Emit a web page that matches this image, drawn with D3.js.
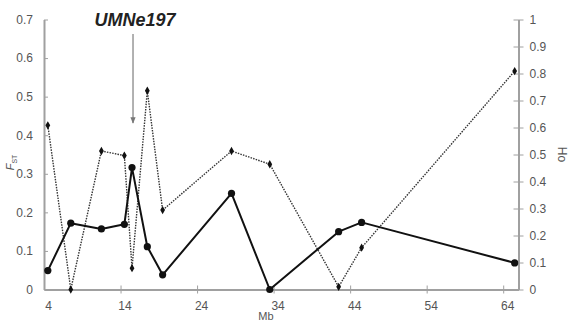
<!DOCTYPE html>
<html>
<head>
<meta charset="utf-8">
<script src="https://cdn.jsdelivr.net/npm/d3@7"></script>
<style>
  html, body { margin: 0; padding: 0; background: #fff; }
  svg { display: block; font-family: Arial, "Liberation Sans", sans-serif; }
</style>
</head>
<body>
<svg id="chart" width="572" height="326"></svg>
<script>
// Marker positions along the chromosome (Mb)
const positionsMb = [4.5, 7.5, 11.5, 14.5, 15.5, 17.5, 19.5, 28.5, 33.5, 42.5, 45.5, 65.5];
// FST per marker (left axis)
const fstValues = [0.049, 0.172, 0.157, 0.169, 0.316, 0.111, 0.038, 0.249, 0.0, 0.150, 0.174, 0.069];
// Observed heterozygosity per marker (right axis)
const hoValues = [0.608, 0.0, 0.513, 0.496, 0.079, 0.736, 0.294, 0.513, 0.464, 0.010, 0.155, 0.809];
// Axis ticks
const xTicks = [4, 14, 24, 34, 44, 54, 64];
const fstTicks = [0, 0.1, 0.2, 0.3, 0.4, 0.5, 0.6, 0.7];
const hoTicks = [0, 0.1, 0.2, 0.3, 0.4, 0.5, 0.6, 0.7, 0.8, 0.9, 1];
// Highlighted marker
const markerName = "UMNe197";
const markerPos = 15.5;

const svg = d3.select("#chart");
const plotLeft = 44, plotRight = 518.5, plotTop = 19.5, plotBottom = 289.5;

const x = d3.scaleLinear().domain([4, 66]).range([plotLeft, plotRight]);
const yF = d3.scaleLinear().domain([0, 0.7]).range([plotBottom, plotTop]);
const yH = d3.scaleLinear().domain([0, 1]).range([plotBottom, plotTop]);

const axisColor = "#a0a0a0";
const textColor = "#555";

function styleAxis(g) {
  g.selectAll(".domain").attr("stroke", axisColor).attr("stroke-width", 2);
  g.selectAll(".tick line").attr("stroke", axisColor).attr("stroke-width", 1);
  g.selectAll(".tick text").attr("fill", textColor).attr("font-size", 12);
}

// Bottom axis (ticks cross the line)
const gx = svg.append("g").attr("transform", `translate(0,${plotBottom})`)
  .call(d3.axisBottom(x).tickValues(xTicks).tickFormat(d3.format("d"))
    .tickSizeInner(4).tickSizeOuter(0).tickPadding(8));
styleAxis(gx);
gx.selectAll(".tick line").attr("y1", -4);
gx.selectAll(".tick text").attr("dx", 4);
gx.selectAll(".tick").filter(d => d === 4).select("line").remove();

// Left axis
const gl = svg.append("g").attr("transform", `translate(${plotLeft},0)`)
  .call(d3.axisLeft(yF).tickValues(fstTicks).tickFormat(d => d === 0 ? "0" : d3.format(".1f")(d))
    .tickSizeInner(5).tickSizeOuter(0).tickPadding(6));
styleAxis(gl);
gl.selectAll(".tick line").attr("x2", 4);

// Right axis
const gr = svg.append("g").attr("transform", `translate(${plotRight},0)`)
  .call(d3.axisRight(yH).tickValues(hoTicks).tickFormat(d => (d === 0 || d === 1) ? String(d) : d3.format(".1f")(d))
    .tickSizeInner(5).tickSizeOuter(0).tickPadding(6));
styleAxis(gr);
gr.selectAll(".tick line").attr("x2", 5).attr("x1", -5);

// Axis titles
svg.append("text")
  .attr("transform", `translate(14,${(plotTop + plotBottom) / 2 + 8}) rotate(-90)`)
  .attr("text-anchor", "middle").attr("fill", textColor).attr("font-size", 11)
  .call(t => {
    t.append("tspan").attr("font-style", "italic").text("F");
    t.append("tspan").attr("font-size", 7).attr("dy", 3).text("ST");
  });

svg.append("text")
  .attr("transform", `translate(558,${(plotTop + plotBottom) / 2}) rotate(90)`)
  .attr("text-anchor", "middle").attr("fill", textColor).attr("font-size", 12)
  .text("Ho");

svg.append("text")
  .attr("x", 266).attr("y", 320).attr("text-anchor", "middle")
  .attr("fill", textColor).attr("font-size", 11).text("Mb");

// Ho series: dotted line with small diamond markers
const hoData = positionsMb.map((p, i) => ({ p, v: hoValues[i] }));
svg.append("path").datum(hoData)
  .attr("fill", "none").attr("stroke", "#333").attr("stroke-width", 1.4)
  .attr("stroke-dasharray", "1.5,1.2")
  .attr("d", d3.line().x(d => x(d.p)).y(d => yH(d.v)));
svg.append("g").selectAll("path").data(hoData).join("path")
  .attr("transform", d => `translate(${x(d.p)},${yH(d.v)})`)
  .attr("d", d3.symbol(d3.symbolDiamond, 20))
  .attr("fill", "#111");

// FST series: solid line with round markers
const fstData = positionsMb.map((p, i) => ({ p, v: fstValues[i] }));
svg.append("path").datum(fstData)
  .attr("fill", "none").attr("stroke", "#111").attr("stroke-width", 2)
  .attr("stroke-linejoin", "round")
  .attr("d", d3.line().x(d => x(d.p)).y(d => yF(d.v)));
svg.append("g").selectAll("circle").data(fstData).join("circle")
  .attr("cx", d => x(d.p)).attr("cy", d => yF(d.v)).attr("r", 3.6)
  .attr("fill", "#111");

// Marker annotation with arrow
svg.append("defs").append("marker")
  .attr("id", "arrowhead").attr("viewBox", "0 0 10 10")
  .attr("refX", 9).attr("refY", 5).attr("markerWidth", 5).attr("markerHeight", 5)
  .attr("orient", "auto")
  .append("path").attr("d", "M0,1 L10,5 L0,9 Z").attr("fill", "#777");

const ax = x(markerPos) + 1;
svg.append("line")
  .attr("x1", ax).attr("x2", ax).attr("y1", 34).attr("y2", 123)
  .attr("stroke", "#888").attr("stroke-width", 1.3)
  .attr("marker-end", "url(#arrowhead)");

svg.append("text")
  .attr("x", 135).attr("y", 26).attr("text-anchor", "middle")
  .attr("font-size", 18).attr("font-weight", "bold").attr("font-style", "italic")
  .attr("fill", "#222").text(markerName);
</script>
</body>
</html>
